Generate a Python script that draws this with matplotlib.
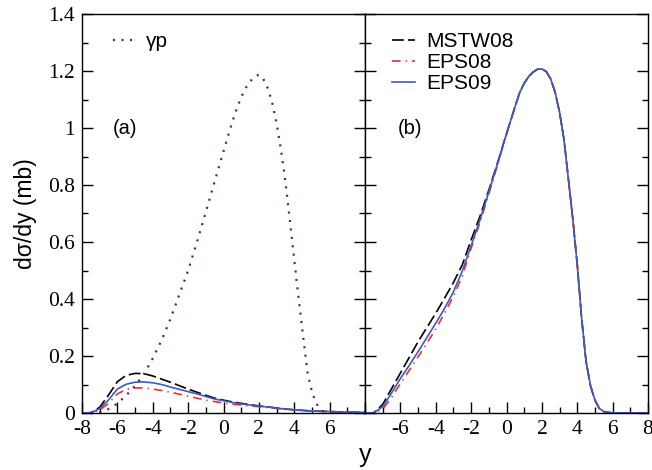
import matplotlib
matplotlib.use("Agg")
import matplotlib.pyplot as plt
from matplotlib import font_manager
from matplotlib.ticker import MultipleLocator
from matplotlib.lines import Line2D

SERIF = "Liberation Serif"
SANS = "Liberation Sans"

plt.rcParams["lines.scale_dashes"] = False
plt.rcParams["font.family"] = SERIF

# panel (a): photon-proton contribution
y_gp = [-7.5, -7.0, -6.5, -6.0, -5.5, -5.0, -4.5, -4.0, -3.5, -3.0, -2.5, -2.0, -1.5, -1.0,
        -0.5, 0.0, 0.5, 0.75, 1.0, 1.25, 1.5, 1.75, 2.0, 2.25, 2.5, 2.75, 3.0, 3.25, 3.5, 3.75,
        4.0, 4.25, 4.5, 4.75, 5.0, 5.25, 5.5, 5.75, 6.0]
gp = [0.0, 0.003, 0.014, 0.033, 0.062, 0.095, 0.136, 0.192, 0.255, 0.33, 0.415, 0.50, 0.60, 0.705,
      0.812, 0.918, 1.022, 1.068, 1.108, 1.14, 1.163, 1.18, 1.187, 1.172, 1.14, 1.09, 1.017, 0.923,
      0.812, 0.677, 0.537, 0.40, 0.27, 0.142, 0.074, 0.033, 0.01, 0.002, 0.0]

# panel (a): photon-nucleus contributions
y_a = [-8.0, -7.5, -7.0, -6.5, -6.0, -5.5, -5.0, -4.5, -4.0, -3.5, -3.0, -2.5, -2.0, -1.5,
       -1.0, -0.5, 0.0, 0.5, 1.0, 1.5, 2.0, 2.5, 3.0, 3.5, 4.0, 5.0, 6.0, 7.0, 8.0]
mstw_a = [0.0, 0.001, 0.02, 0.063, 0.11, 0.132, 0.139, 0.138, 0.13, 0.119, 0.108, 0.096, 0.084, 0.073,
          0.062, 0.052, 0.045, 0.039, 0.034, 0.029, 0.025, 0.021, 0.018, 0.014, 0.011, 0.007, 0.005, 0.003, 0.002]
eps08_a = [0.0, 0.001, 0.01, 0.034, 0.067, 0.083, 0.088, 0.088, 0.084, 0.079, 0.073, 0.066, 0.059, 0.052,
           0.045, 0.04, 0.035, 0.031, 0.028, 0.025, 0.022, 0.019, 0.016, 0.013, 0.011, 0.007, 0.005, 0.003, 0.002]
eps09_a = [0.0, 0.001, 0.015, 0.046, 0.084, 0.101, 0.108, 0.109, 0.106, 0.1, 0.091, 0.083, 0.075, 0.067,
           0.058, 0.049, 0.043, 0.037, 0.032, 0.028, 0.024, 0.021, 0.017, 0.014, 0.011, 0.007, 0.005, 0.003, 0.002]

# panel (b): total
y_b = [-8.0, -7.5, -7.0, -6.5, -6.0, -5.5, -5.0, -4.5, -4.0, -3.5, -3.0, -2.5, -2.0, -1.5, -1.0,
       -0.5, 0.0, 0.5, 0.75, 1.0, 1.25, 1.5, 1.75, 2.0, 2.25, 2.5, 2.75, 3.0, 3.25, 3.5, 3.75,
       4.0, 4.25, 4.5, 4.75, 5.0, 5.25, 5.5, 6.0, 7.0, 8.0]
eps09_b = [0.0, 0.001, 0.022, 0.07, 0.121, 0.167, 0.215, 0.265, 0.315, 0.367, 0.425, 0.498, 0.587, 0.677, 0.776,
           0.876, 0.98, 1.078, 1.125, 1.157, 1.18, 1.196, 1.206, 1.207, 1.198, 1.172, 1.125, 1.055, 0.96, 0.82,
           0.68, 0.52, 0.33, 0.18, 0.095, 0.045, 0.016, 0.005, 0.0, 0.0, 0.0]
mstw_b = [0.0, 0.001, 0.03, 0.085, 0.14, 0.195, 0.25, 0.30, 0.35, 0.403, 0.458, 0.52, 0.607, 0.69, 0.782,
          0.879, 0.98, 1.078, 1.125, 1.157, 1.18, 1.196, 1.206, 1.207, 1.198, 1.172, 1.125, 1.055, 0.96, 0.82,
          0.68, 0.52, 0.33, 0.18, 0.095, 0.045, 0.016, 0.005, 0.0, 0.0, 0.0]
eps08_b = [0.0, 0.0, 0.013, 0.055, 0.103, 0.15, 0.197, 0.245, 0.295, 0.35, 0.41, 0.48, 0.578, 0.668, 0.768,
           0.872, 0.977, 1.078, 1.125, 1.157, 1.18, 1.196, 1.206, 1.207, 1.198, 1.172, 1.125, 1.055, 0.96, 0.82,
           0.68, 0.52, 0.33, 0.18, 0.095, 0.045, 0.016, 0.005, 0.0, 0.0, 0.0]

BLACK = "black"
RED = "#ee3030"
BLUE = "#3c5cbf"
MAROON = "#6e1f52"

DASH = (0, (8.5, 3.0))
DASHDOT = (0, (6.2, 3.6, 1.0, 3.6))
DOT = (0, (1.5, 4.6))

serif_font = font_manager.FontProperties(family=SERIF, size=15.5)

fig = plt.figure(figsize=(6.52, 4.70), dpi=100)
W, H = 652.0, 470.0
ax_a = fig.add_axes([82 / W, 57 / H, 283 / W, 399 / H])
ax_b = fig.add_axes([365 / W, 57 / H, 283 / W, 399 / H])

ax_a.plot(y_a, mstw_a, color=BLACK, lw=1.2, linestyle=DASH)
ax_a.plot(y_a, eps08_a, color=RED, lw=1.2, linestyle=DASHDOT)
ax_a.plot(y_a, eps09_a, color=BLUE, lw=1.2)
ax_a.plot(y_gp, gp, color=MAROON, lw=1.6, linestyle=DOT)

ax_b.plot(y_b, mstw_b, color=BLACK, lw=1.2, linestyle=DASH)
ax_b.plot(y_b, eps08_b, color=RED, lw=1.2, linestyle=DASHDOT)
ax_b.plot(y_b, eps09_b, color=BLUE, lw=1.2)

for ax in (ax_a, ax_b):
    ax.set_xlim(-8, 8)
    ax.set_ylim(0, 1.4)
    ax.xaxis.set_major_locator(MultipleLocator(2))
    ax.xaxis.set_minor_locator(MultipleLocator(1))
    ax.yaxis.set_major_locator(MultipleLocator(0.2))
    ax.yaxis.set_minor_locator(MultipleLocator(0.1))
    ax.tick_params(which="both", direction="in", left=True, right=True, bottom=True, top=False,
                   width=1.0)
    ax.tick_params(which="major", length=8)
    ax.tick_params(which="minor", length=4.5)
    ax.tick_params(axis="x", pad=5)
    ax.tick_params(axis="y", pad=5)
    for s in ax.spines.values():
        s.set_linewidth(1.0)

ax_a.set_xticks([-8, -6, -4, -2, 0, 2, 4, 6, 8])
ax_a.set_xticklabels(["-8", "-6", "-4", "-2", "0", "2", "4", "6", ""], fontproperties=serif_font)
ax_a.set_yticks([0, 0.2, 0.4, 0.6, 0.8, 1.0, 1.2, 1.4])
ax_a.set_yticklabels(["0", "0.2", "0.4", "0.6", "0.8", "1", "1.2", "1.4"], fontproperties=serif_font)
ax_b.set_xticks([-8, -6, -4, -2, 0, 2, 4, 6, 8])
ax_b.set_xticklabels(["", "-6", "-4", "-2", "0", "2", "4", "6", "8"], fontproperties=serif_font)
ax_b.set_yticklabels([])

ax_a.set_ylabel("dσ/dy (mb)", family=SANS, fontsize=16.5, labelpad=8)
fig.text(365 / W, 1 - 455 / H, "y", family=SANS, fontsize=18, ha="center", va="center")

ax_a.text(-6.25, 1.0, "(a)", family=SANS, fontsize=14.5, ha="left", va="center")
ax_b.text(-6.13, 1.0, "(b)", family=SANS, fontsize=14.5, ha="left", va="center")

ax_a.legend([Line2D([], [], color=MAROON, lw=1.6, linestyle=DOT)], ["γp"],
            loc="upper left", bbox_to_anchor=(0.1095, 0.955), frameon=False,
            handlelength=1.0, handletextpad=0.6, borderpad=0, borderaxespad=0,
            prop={"family": SANS, "size": 15})

handles_b = [Line2D([], [], color=BLACK, lw=1.2, linestyle=DASH),
             Line2D([], [], color=RED, lw=1.2, linestyle=DASHDOT),
             Line2D([], [], color=BLUE, lw=1.2)]
ax_b.legend(handles_b, ["MSTW08", "EPS08", "EPS09"], loc="upper left",
            bbox_to_anchor=(0.0954, 0.955), frameon=False, handlelength=1.1,
            handletextpad=0.55, labelspacing=0.1, borderpad=0, borderaxespad=0,
            prop={"family": SANS, "size": 15})

fig.savefig("out.png", dpi=100)
